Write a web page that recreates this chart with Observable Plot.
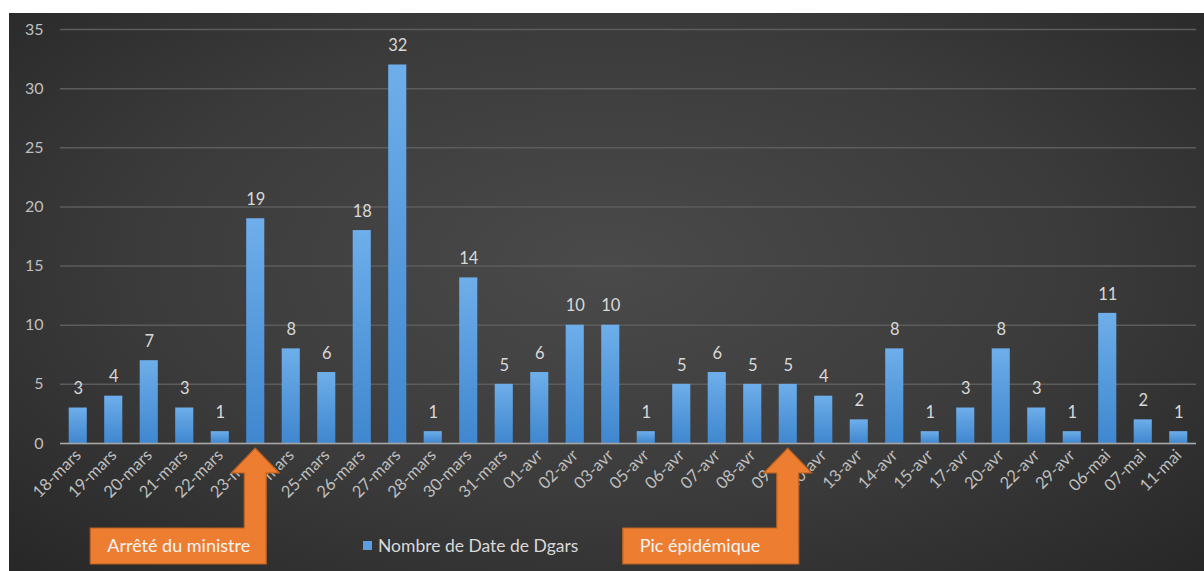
<!DOCTYPE html>
<html><head><meta charset="utf-8">
<script src="https://cdn.jsdelivr.net/npm/d3@7"></script>
<script src="https://cdn.jsdelivr.net/npm/@observablehq/plot@0.6"></script>
<style>
body{margin:0;background:#fff;}
#chart{position:absolute;left:9px;top:13px;}
</style></head><body><div id="chart"></div>
<script>
const dates = ["18-mars","19-mars","20-mars","21-mars","22-mars","23-mars","24-mars","25-mars","26-mars","27-mars","28-mars","30-mars","31-mars","01-avr","02-avr","03-avr","05-avr","06-avr","07-avr","08-avr","09-avr","10-avr","13-avr","14-avr","15-avr","17-avr","20-avr","22-avr","29-avr","06-mai","07-mai","11-mai"];
const counts = [3,4,7,3,1,19,8,6,18,32,1,14,5,6,10,10,1,5,6,5,5,4,2,8,1,3,8,3,1,11,2,1];
const yTicks = [0,5,10,15,20,25,30,35];
const legendLabel = "Nombre de Date de Dgars";
const annotDates = ["23-mars","09-avr"];
const annotTexts = ["Arrêté du ministre","Pic épidémique"];

const data = dates.map((d,i)=>({date:d, n:counts[i]}));
const W=1195, H=558;
const plot = Plot.plot({
  width:W, height:H, marginLeft:51, marginRight:8, marginTop:16, marginBottom:128,
  style:{background:"radial-gradient(ellipse at 50% 45%, #4a4a4a 0%, #3b3b3b 55%, #272727 100%)", fontFamily:"Lato, 'Open Sans', sans-serif", color:"#bfbfbf", overflow:"visible"},
  x:{domain:dates, paddingInner:0.49, paddingOuter:0.245, round:false, label:null},
  y:{domain:[0,35], label:null},
  marks:[
    Plot.gridY(yTicks, {stroke:"#5c5c5c", strokeOpacity:1, strokeWidth:1.5}),
    Plot.barY(data,{x:"date", y:"n", fill:"url(#barGrad)"}),
    Plot.ruleY([0], {stroke:"#a6a6a6", strokeWidth:1.5}),
    Plot.text(data,{x:"date", y:"n", text:d=>String(d.n), dy:-19, fill:"#d9d9d9", fontSize:16.5}),
    Plot.axisY({ticks:yTicks, tickSize:0, tickPadding:17, fontSize:16, fill:"#bfbfbf", label:null}),
    Plot.axisX({tickSize:0, tickRotate:-45, tickPadding:9, fontSize:16.5, fill:"#bfbfbf", label:null})
  ]
});
document.getElementById("chart").appendChild(plot);

const svg = d3.select(plot);
const defs = svg.insert("defs", ":first-child");
const g = defs.append("linearGradient").attr("id","barGrad").attr("x1",0).attr("y1",0).attr("x2",0).attr("y2",1);
g.append("stop").attr("offset","0%").attr("stop-color","#6eaeea");
g.append("stop").attr("offset","100%").attr("stop-color","#3f87cf");

const xs = plot.scale("x"), ys = plot.scale("y");
const y0 = ys.apply(0);
annotDates.forEach((d,i)=>{
  const cx = xs.apply(d) + xs.bandwidth/2;
  const tip = y0+5, hb = y0+30, bt = y0+85, bb = y0+121;
  const left = cx-165, sr = cx+11, sl = cx-11;
  const pts = [[left,bb],[left,bt],[sl,bt],[sl,hb],[cx-24,hb],[cx,tip],[cx+24,hb],[sr,hb],[sr,bb]];
  svg.append("path").attr("d","M"+pts.map(p=>p.join(",")).join("L")+"Z")
    .attr("fill","#ed7d31").attr("stroke","#b9601f").attr("stroke-width",1.2);
  svg.append("text").attr("x",left+17).attr("y",(bt+bb)/2).attr("dy","0.35em").attr("text-anchor","start")
    .attr("fill","#f5f5f5").attr("font-size",18).attr("font-family","Lato, sans-serif").text(annotTexts[i]);
});
// legend
const lx = 354, ly = y0+102;
svg.append("rect").attr("x",lx).attr("y",ly-4).attr("width",9).attr("height",9).attr("fill","#5b9fe0");
svg.append("text").attr("x",lx+15).attr("y",ly+1).attr("dy","0.35em").attr("text-anchor","start")
  .attr("fill","#d9d9d9").attr("font-size",17.5).attr("font-family","Lato, sans-serif").text(legendLabel);
</script></body></html>
